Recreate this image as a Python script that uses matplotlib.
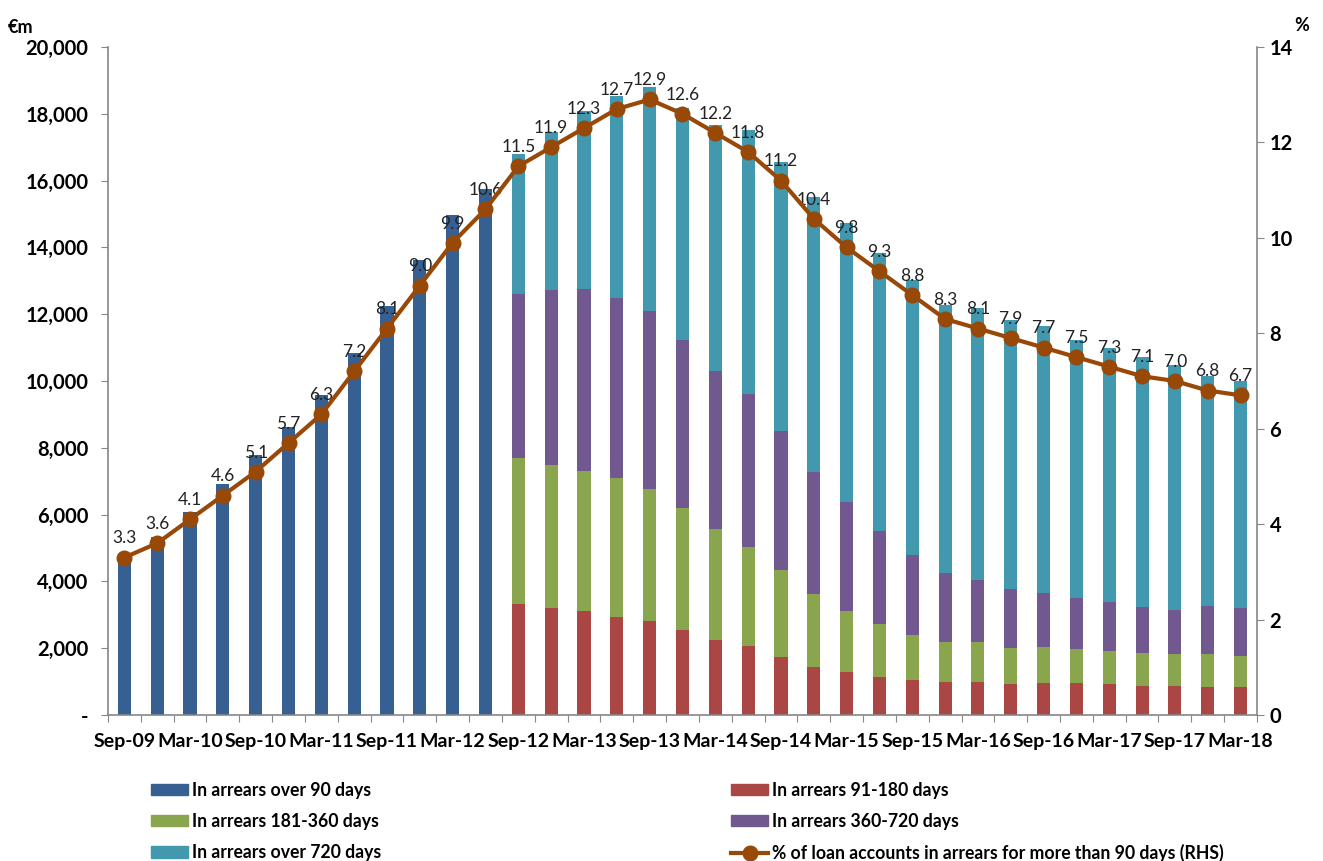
import numpy as np
import matplotlib
matplotlib.use("Agg")
import matplotlib.pyplot as plt
from matplotlib.ticker import FuncFormatter
from matplotlib.patches import Patch
from matplotlib.lines import Line2D

quarters = ["Sep-09", "Dec-09", "Mar-10", "Jun-10", "Sep-10", "Dec-10", "Mar-11",
            "Jun-11", "Sep-11", "Dec-11", "Mar-12", "Jun-12", "Sep-12", "Dec-12",
            "Mar-13", "Jun-13", "Sep-13", "Dec-13", "Mar-14", "Jun-14", "Sep-14",
            "Dec-14", "Mar-15", "Jun-15", "Sep-15", "Dec-15", "Mar-16", "Jun-16",
            "Sep-16", "Dec-16", "Mar-17", "Jun-17", "Sep-17", "Dec-17", "Mar-18"]

# EUR m, Sep-09 .. Jun-12 (single series)
over_90 = [4700, 5320, 6080, 6930, 7770, 8610, 9580, 10830, 12250, 13620, 14970, 15740]

# EUR m, Sep-12 .. Mar-18 (breakdown)
d91_180 = [3320, 3190, 3110, 2940, 2810, 2540, 2250, 2080, 1750, 1450, 1290, 1150,
           1050, 990, 990, 930, 960, 960, 930, 870, 870, 840, 840]
d181_360 = [4370, 4280, 4200, 4160, 3960, 3660, 3320, 2940, 2590, 2170, 1820, 1570,
            1350, 1200, 1200, 1090, 1090, 1010, 980, 990, 970, 1000, 940]
d360_720 = [4910, 5250, 5440, 5390, 5330, 5040, 4730, 4590, 4160, 3670, 3280, 2790,
            2390, 2060, 1850, 1750, 1600, 1520, 1470, 1380, 1300, 1430, 1410]
over_720 = [4200, 4740, 5330, 6050, 6690, 6920, 7370, 7900, 8070, 8230, 8330, 8310,
            8220, 8040, 8150, 8060, 8000, 7740, 7610, 7480, 7340, 6890, 6810]

# % of loan accounts in arrears > 90 days (RHS)
pct_90 = [3.3, 3.6, 4.1, 4.6, 5.1, 5.7, 6.3, 7.2, 8.1, 9.0, 9.9, 10.6, 11.5, 11.9,
          12.3, 12.7, 12.9, 12.6, 12.2, 11.8, 11.2, 10.4, 9.8, 9.3, 8.8, 8.3, 8.1,
          7.9, 7.7, 7.5, 7.3, 7.1, 7.0, 6.8, 6.7]

C_BLUE = "#376092"
C_RED = "#AA4643"
C_GREEN = "#89A54E"
C_PURPLE = "#71588F"
C_TEAL = "#4198AF"
C_LINE = "#984807"
C_AXIS = "#868686"

plt.rcParams["font.family"] = ["Lato", "DejaVu Sans"]

fig = plt.figure(figsize=(13.23, 8.61), dpi=100)
ax = fig.add_axes([0.0816, 0.1696, 0.8685, 0.7758])

x = np.arange(len(quarters))
n1 = len(over_90)
xb = x[:n1]
xs = x[n1:]
w = 0.40

ax.bar(xb, over_90, w, color=C_BLUE, zorder=2)
bottom = np.zeros(len(xs))
for vals, col in [(d91_180, C_RED), (d181_360, C_GREEN), (d360_720, C_PURPLE), (over_720, C_TEAL)]:
    ax.bar(xs, vals, w, bottom=bottom, color=col, zorder=2)
    bottom += np.array(vals)

ax.set_xlim(-0.5, len(quarters) - 0.5)
ax.set_ylim(0, 20000)
ax.set_yticks(np.arange(0, 20001, 2000))
ax.yaxis.set_major_formatter(FuncFormatter(lambda v, p: "-" if v == 0 else "{:,.0f}".format(v)))

# category boundaries get tick marks, labels every second quarter
ax.set_xticks(np.arange(-0.5, len(quarters), 1.0))
ax.set_xticklabels([])
ax.set_xticks(x[::2], minor=True)
ax.set_xticklabels(quarters[::2], minor=True, fontsize=14, fontweight="bold")
ax.tick_params(axis="x", which="major", length=5, color=C_AXIS, direction="out")
ax.tick_params(axis="x", which="minor", length=0, pad=13)
ax.tick_params(axis="y", length=5, color=C_AXIS, labelsize=14.5, pad=9)
for lab in ax.get_yticklabels():
    lab.set_fontweight("bold")

for s in ["top", "right"]:
    ax.spines[s].set_visible(False)
for s in ["left", "bottom"]:
    ax.spines[s].set_color(C_AXIS)
    ax.spines[s].set_linewidth(1.2)

ax2 = ax.twinx()
ax2.set_ylim(0, 14)
ax2.set_yticks(np.arange(0, 15, 2))
ax2.tick_params(axis="y", length=5, color=C_AXIS, labelsize=14.5, pad=4)
for lab in ax2.get_yticklabels():
    lab.set_fontweight("bold")
for s in ["top", "left", "bottom"]:
    ax2.spines[s].set_visible(False)
ax2.spines["right"].set_color(C_AXIS)
ax2.spines["right"].set_linewidth(1.2)

ax2.plot(x, pct_90, color=C_LINE, lw=3, marker="o", ms=10.5, zorder=4)
for xi, v in zip(x, pct_90):
    ax2.annotate("{:.1f}".format(v), (xi, v), xytext=(0, 8), textcoords="offset points",
                 ha="center", va="bottom", fontsize=12.5, color="#222222")

fig.text(0.006, 0.968, "€m", fontsize=13, fontweight="bold", ha="left", va="center")
fig.text(0.984, 0.970, "%", fontsize=13, fontweight="bold", ha="center", va="center")

h_left = [Patch(color=C_BLUE), Patch(color=C_GREEN), Patch(color=C_TEAL)]
l_left = ["In arrears over 90 days", "In arrears 181-360 days", "In arrears over 720 days"]
h_right = [Patch(color=C_RED), Patch(color=C_PURPLE),
           Line2D([], [], color=C_LINE, lw=3, marker="o", ms=10.5)]
l_right = ["In arrears 91-180 days", "In arrears 360-720 days",
           "% of loan accounts in arrears for more than 90 days (RHS)"]

common = dict(frameon=False, loc="upper left", handlelength=2.1, handleheight=0.6,
              handletextpad=0.2, labelspacing=0.8, borderaxespad=0, borderpad=0,
              prop={"size": 12.7, "weight": "bold"})
fig.legend(h_left, l_left, bbox_to_anchor=(151 / 1323, 1 - 782 / 861), **common)
fig.legend(h_right, l_right, bbox_to_anchor=(731 / 1323, 1 - 782 / 861), **common)

fig.savefig("out.png", dpi=100)
